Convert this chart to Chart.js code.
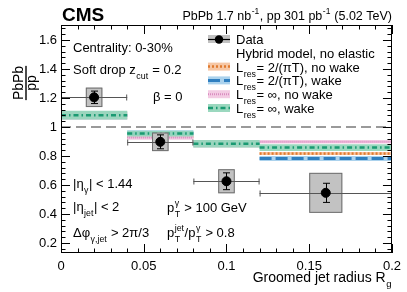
<!DOCTYPE html>
<html><head><meta charset="utf-8">
<script src="https://cdn.jsdelivr.net/npm/chart.js@4/dist/chart.umd.min.js"></script>
<style>html,body{margin:0;padding:0;background:#fff}</style>
</head><body>
<canvas id="c" width="407" height="292"></canvas>
<script>
// ---- data ----
const binEdges = [0, 0.04, 0.08, 0.12, 0.2];
const dataX = [0.02, 0.06, 0.1, 0.16];
const dataY = [1.205, 0.898, 0.626, 0.546];
const dataXLo = [0, 0.04, 0.08, 0.12];
const dataXHi = [0.04, 0.08, 0.12, 0.2];
const statErr = [0.043, 0.048, 0.058, 0.066];
const systErr = [0.067, 0.064, 0.083, 0.138];
const systBoxLo = [0.015, 0.055, 0.095, 0.15];
const systBoxHi = [0.025, 0.065, 0.105, 0.17];
const noWakeFiniteY = [1.08, 0.935, 0.885, 0.817];
const noWakeFiniteErr = [0.026, 0.014, 0.024, 0.01];
const wakeFiniteY = [1.08, 0.958, 0.885, 0.783];
const wakeFiniteErr = [0.028, 0.02, 0.024, 0.018];
const noWakeInfY = [1.08, 0.928, 0.885, 0.898];
const noWakeInfErr = [0.028, 0.016, 0.024, 0.012];
const wakeInfY = [1.082, 0.955, 0.885, 0.858];
const wakeInfErr = [0.03, 0.02, 0.026, 0.024];
const yTicks = [0.2, 0.4, 0.6, 0.8, 1.0, 1.2, 1.4, 1.6];
const yTickLabels = ['0.2', '0.4', '0.6', '0.8', '1', '1.2', '1.4', '1.6'];
const xTicks = [0, 0.05, 0.1, 0.15, 0.2];
const xTickLabels = ['0', '0.05', '0.1', '0.15', '0.2'];

const FONT = '"Liberation Sans", Arial, Helvetica, sans-serif';

const models = [
  {y: noWakeFiniteY, e: noWakeFiniteErr, band: 'rgba(246,196,160,0.95)', line: '#e07a2e', dash: [2, 2], lw: 2.5},
  {y: wakeFiniteY, e: wakeFiniteErr, band: 'rgba(166,208,236,0.95)', line: '#2f7fc0', dash: [12, 4], lw: 3},
  {y: noWakeInfY, e: noWakeInfErr, band: 'rgba(242,200,226,0.95)', line: '#d98cc0', dash: [1, 1], lw: 2},
  {y: wakeInfY, e: wakeInfErr, band: 'rgba(150,214,188,0.95)', line: '#1a9a72', dash: [5, 3, 1.5, 3], lw: 2.5},
];

function stepPts(vals, errs, sign) {
  const pts = [];
  vals.forEach((v, i) => {
    const y = v + sign * (errs ? errs[i] : 0);
    pts.push({x: binEdges[i], y: y});
    pts.push({x: binEdges[i + 1], y: y});
  });
  return pts;
}

const datasets = [];
let ord = 100;
models.forEach((m) => {
  datasets.push({type: 'line', data: stepPts(m.y, m.e, 1), fill: '+1', backgroundColor: m.band,
    borderWidth: 0, pointRadius: 0, order: ord--});
  datasets.push({type: 'line', data: stepPts(m.y, m.e, -1), fill: false,
    borderWidth: 0, pointRadius: 0, order: ord--});
  datasets.push({type: 'line', data: stepPts(m.y, null, 0), fill: false, borderColor: m.line,
    borderWidth: m.lw, borderDash: m.dash, pointRadius: 0, order: ord--,
    segment: {borderColor: ctx => (ctx.p0.parsed.x === ctx.p1.parsed.x ? 'rgba(0,0,0,0)' : undefined)}});
});
const dataIndex = datasets.length;
datasets.push({type: 'scatter', data: dataX.map((x, i) => ({x: x, y: dataY[i]})),
  pointRadius: 4.5, pointBackgroundColor: '#000', pointBorderColor: '#000', order: 0});

function rich(ctx, x, y, parts, size, align) {
  const big = size + 'px ' + FONT, small = (size * 0.68) + 'px ' + FONT;
  const items = parts.map(p => (typeof p === 'string' ? {t: p} : p));
  let w = 0;
  items.forEach(p => {
    if (p.t !== undefined) { ctx.font = big; p.w = ctx.measureText(p.t).width; }
    else { ctx.font = small; p.w = Math.max(p.sub ? ctx.measureText(p.sub).width : 0, p.sup ? ctx.measureText(p.sup).width : 0) + 1; }
    w += p.w;
  });
  if (align === 'right') x -= w;
  ctx.textAlign = 'left'; ctx.textBaseline = 'alphabetic'; ctx.fillStyle = '#000';
  items.forEach(p => {
    if (p.t !== undefined) { ctx.font = big; ctx.fillText(p.t, x, y); }
    else {
      ctx.font = small;
      if (p.sub) ctx.fillText(p.sub, x + 0.5, y + size * 0.38);
      if (p.sup) ctx.fillText(p.sup, x + 0.5, y - size * 0.45);
    }
    x += p.w;
  });
}

const extras = {
  id: 'extras',
  beforeDatasetsDraw(chart) {
    const {ctx, scales: {x, y}} = chart;
    ctx.save();
    ctx.strokeStyle = '#7a7a7a'; ctx.lineWidth = 1.5; ctx.setLineDash([10, 5]);
    ctx.beginPath(); ctx.moveTo(x.getPixelForValue(0), y.getPixelForValue(1)); ctx.lineTo(x.getPixelForValue(0.2), y.getPixelForValue(1)); ctx.stroke();
    ctx.restore();
  },
  beforeDatasetDraw(chart, args) {
    if (args.index !== dataIndex) return;
    const {ctx, scales: {x, y}} = chart;
    ctx.save();
    dataX.forEach((dx, i) => {
      const x0 = x.getPixelForValue(systBoxLo[i]), x1 = x.getPixelForValue(systBoxHi[i]);
      const y0 = y.getPixelForValue(dataY[i] + systErr[i]), y1 = y.getPixelForValue(dataY[i] - systErr[i]);
      ctx.fillStyle = '#c2c2c2'; ctx.fillRect(x0, y0, x1 - x0, y1 - y0);
      ctx.strokeStyle = '#6e6e6e'; ctx.lineWidth = 1; ctx.strokeRect(x0 + 0.5, y0 + 0.5, x1 - x0 - 1, y1 - y0 - 1);
      // x error bar
      const py = Math.round(y.getPixelForValue(dataY[i])) + 0.5;
      const xl = x.getPixelForValue(dataXLo[i]), xh = x.getPixelForValue(dataXHi[i]);
      ctx.strokeStyle = '#555'; ctx.lineWidth = 1;
      ctx.beginPath(); ctx.moveTo(xl, py); ctx.lineTo(xh, py);
      ctx.moveTo(xl + 0.5, py - 3); ctx.lineTo(xl + 0.5, py + 3);
      ctx.moveTo(xh - 0.5, py - 3); ctx.lineTo(xh - 0.5, py + 3); ctx.stroke();
      // stat error
      const px = Math.round(x.getPixelForValue(dx)) + 0.5;
      const s0 = y.getPixelForValue(dataY[i] + statErr[i]), s1 = y.getPixelForValue(dataY[i] - statErr[i]);
      ctx.strokeStyle = '#000'; ctx.lineWidth = 1;
      ctx.beginPath(); ctx.moveTo(px, s0); ctx.lineTo(px, s1);
      ctx.moveTo(px - 3.5, s0); ctx.lineTo(px + 3.5, s0);
      ctx.moveTo(px - 3.5, s1); ctx.lineTo(px + 3.5, s1); ctx.stroke();
    });
    ctx.restore();
  },
  afterDraw(chart) {
    const {ctx, chartArea: a, scales: {x, y}} = chart;
    ctx.save();
    // frame
    ctx.strokeStyle = '#000'; ctx.lineWidth = 1;
    ctx.strokeRect(Math.round(a.left) + 0.5, Math.round(a.top) + 0.5, Math.round(a.right - a.left) - 1, Math.round(a.bottom - a.top) - 1);
    ctx.beginPath();
    for (let v = 0.16; v <= 1.70; v += 0.04) {
      const py = Math.round(y.getPixelForValue(v)) + 0.5;
      const major = Math.abs(Math.round(v / 0.2) * 0.2 - v) < 1e-6;
      const L = major ? 9 : 4.5;
      ctx.moveTo(a.left, py); ctx.lineTo(a.left + L, py);
      ctx.moveTo(a.right, py); ctx.lineTo(a.right - L, py);
    }
    for (let v = 0; v <= 0.2001; v += 0.01) {
      const px = Math.round(x.getPixelForValue(v)) + 0.5;
      const major = Math.abs(Math.round(v / 0.05) * 0.05 - v) < 1e-6;
      const L = major ? 9 : 4.5;
      ctx.moveTo(px, a.bottom); ctx.lineTo(px, a.bottom - L);
      ctx.moveTo(px, a.top); ctx.lineTo(px, a.top + L);
    }
    ctx.stroke();

    // header
    ctx.font = 'bold 19px ' + FONT; ctx.fillStyle = '#000'; ctx.textAlign = 'left'; ctx.textBaseline = 'alphabetic';
    ctx.fillText('CMS', 62, 21);
    rich(ctx, 392, 20, ['PbPb 1.7 nb', {sup: '-1'}, ', pp 301 pb', {sup: '-1'}, ' (5.02 TeV)'], 12.5, 'right');

    // y title (fraction)
    ctx.save();
    ctx.translate(26, 83); ctx.rotate(-Math.PI / 2);
    ctx.font = '14px ' + FONT; ctx.textAlign = 'center'; ctx.fillStyle = '#000';
    ctx.fillText('PbPb', 0, -3);
    const fw = ctx.measureText('PbPb').width;
    ctx.fillRect(-fw / 2, -0.7, fw, 1.4);
    ctx.fillText('pp', 0, 10);
    ctx.restore();

    // x title
    rich(ctx, 392, 282, ['Groomed jet radius R', {sub: 'g'}], 14, 'right');

    // left texts
    rich(ctx, 73, 52, ['Centrality: 0-30%'], 13);
    rich(ctx, 73, 74, ['Soft drop z', {sub: 'cut'}, ' = 0.2'], 13);
    rich(ctx, 153, 101, ['\u03b2 = 0'], 13);
    rich(ctx, 73, 188, ['|\u03b7', {sub: '\u03b3'}, '| < 1.44'], 13);
    rich(ctx, 73, 211, ['|\u03b7', {sub: 'jet'}, '| < 2'], 13);
    rich(ctx, 73, 237, ['\u0394\u03c6', {sub: '\u03b3,jet'}, ' > 2\u03c0/3'], 13);
    rich(ctx, 167, 212, ['p', {sub: 'T', sup: '\u03b3'}, ' > 100 GeV'], 13);
    rich(ctx, 167, 237, ['p', {sub: 'T', sup: 'jet'}, '/p', {sub: 'T', sup: '\u03b3'}, ' > 0.8'], 13);

    // legend
    const lx0 = 208, lx1 = 230, tx = 236;
    let yc = 39;
    ctx.fillStyle = '#c2c2c2'; ctx.fillRect(lx0, yc - 4, lx1 - lx0, 8);
    ctx.strokeStyle = '#000'; ctx.lineWidth = 1.2; ctx.beginPath(); ctx.moveTo(lx0, yc + 0.5); ctx.lineTo(lx1, yc + 0.5); ctx.stroke();
    ctx.beginPath(); ctx.arc((lx0 + lx1) / 2, yc + 0.5, 4.2, 0, Math.PI * 2); ctx.fillStyle = '#000'; ctx.fill();
    rich(ctx, tx, yc + 5, ['Data'], 13);
    yc += 13.8;
    rich(ctx, tx, yc + 5, ['Hybrid model, no elastic'], 13);
    const labels = [
      ['L', {sub: 'res'}, '= 2/(\u03c0T), no wake'],
      ['L', {sub: 'res'}, '= 2/(\u03c0T), wake'],
      ['L', {sub: 'res'}, '= \u221e, no wake'],
      ['L', {sub: 'res'}, '= \u221e, wake'],
    ];
    models.forEach((m, i) => {
      yc += 13.8;
      ctx.fillStyle = m.band; ctx.fillRect(lx0, yc - 4, lx1 - lx0, 8);
      ctx.save(); ctx.strokeStyle = m.line; ctx.lineWidth = m.lw; ctx.setLineDash(m.dash);
      ctx.beginPath(); ctx.moveTo(lx0, yc); ctx.lineTo(lx1, yc); ctx.stroke(); ctx.restore();
      rich(ctx, tx, yc + 5, labels[i], 13);
    });
    ctx.restore();
  }
};

new Chart(document.getElementById('c'), {
  type: 'scatter',
  data: {datasets: datasets},
  options: {
    responsive: false, animation: false, devicePixelRatio: 1,
    layout: {padding: {left: 0, right: 15, top: 25, bottom: 0}},
    plugins: {legend: {display: false}, tooltip: {enabled: false}},
    elements: {line: {tension: 0}},
    scales: {
      x: {type: 'linear', min: 0, max: 0.2,
        grid: {display: false, drawTicks: false}, border: {display: false},
        ticks: {padding: 6, color: '#000', font: {size: 13, family: FONT}, maxRotation: 0,
          callback: (v) => { const k = xTicks.findIndex(t => Math.abs(t - v) < 1e-9); return k >= 0 ? xTickLabels[k] : ''; }},
        afterBuildTicks: s => { s.ticks = xTicks.map(v => ({value: v})); },
        afterFit: s => { s.height = 39; }},
      y: {type: 'linear', min: 0.131, max: 1.704,
        grid: {display: false, drawTicks: false}, border: {display: false},
        ticks: {padding: 4, color: '#000', font: {size: 13, family: FONT},
          callback: (v) => { const k = yTicks.findIndex(t => Math.abs(t - v) < 1e-9); return k >= 0 ? yTickLabels[k] : ''; }},
        afterBuildTicks: s => { s.ticks = yTicks.map(v => ({value: v})); },
        afterFit: s => { s.width = 61; }}
    }
  },
  plugins: [extras]
});
</script>
</body></html>
